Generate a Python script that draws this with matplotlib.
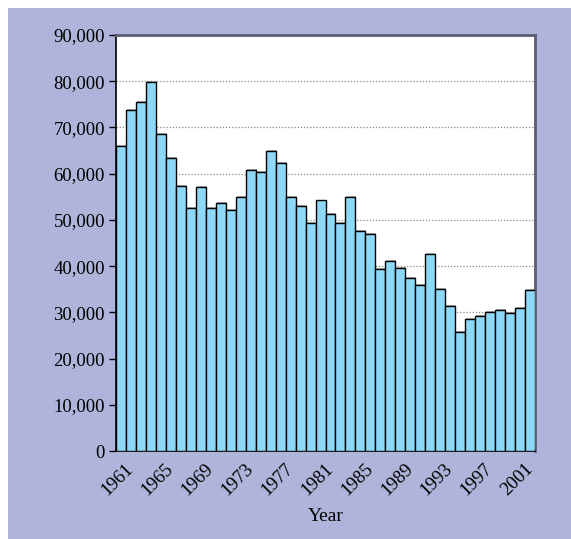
import matplotlib
matplotlib.use("Agg")
import matplotlib.pyplot as plt
import matplotlib.patheffects as pe
from matplotlib.patches import Rectangle
from matplotlib.ticker import FuncFormatter
from matplotlib.transforms import ScaledTranslation

years = list(range(1960, 2002))
values = [66000, 73700, 75500, 79800, 68600, 63300, 57400, 52500, 57100, 52500,
          53600, 52200, 55000, 60800, 60300, 65000, 62400, 54900, 53100, 49300,
          54200, 51200, 49300, 55000, 47700, 47000, 39400, 41100, 39600, 37500,
          35900, 42600, 35000, 31400, 25800, 28600, 29200, 30100, 30500, 29800,
          31000, 34800]
tick_years = list(range(1961, 2002, 4))
y_ticks = list(range(0, 90001, 10000))

bar_color = "#8DD8F6"
panel_color = "#AFB5DA"

plt.rcParams["font.family"] = ["Liberation Serif", "DejaVu Serif"]

fig = plt.figure(figsize=(5.71, 5.39), dpi=100, facecolor="white")
panel = Rectangle((8 / 571, 0), 1 - 8 / 571, 1 - 8 / 539,
                  transform=fig.transFigure, facecolor=panel_color,
                  edgecolor="none", zorder=-10)
fig.add_artist(panel)

ax = fig.add_axes([116 / 571, 1 - 451 / 539, (535 - 116) / 571, (451 - 35) / 539])
ax.set_zorder(1)
ax.set_facecolor("white")

bars = ax.bar(years, values, width=1.0, color=bar_color, edgecolor="black",
              linewidth=1.0, zorder=3)
for b in bars:
    b.set_path_effects([pe.SimplePatchShadow(offset=(0.7, 0.7), shadow_rgbFace="#555555",
                                             alpha=0.45), pe.Normal()])

ax.set_xlim(years[0] - 0.5, years[-1] + 0.5)
ax.set_ylim(0, 90000)
ax.set_yticks(y_ticks)
ax.yaxis.set_major_formatter(FuncFormatter(lambda v, p: f"{int(v):,}"))
ax.set_xticks(tick_years)
ax.set_xticklabels([str(y) for y in tick_years], rotation=45, ha="right",
                   fontsize=13.5)
ax.tick_params(axis="x", length=0, pad=7)
ax.tick_params(axis="y", length=5, width=1, direction="out", labelsize=13.5, pad=3)

# nudge the rotated year labels a little to the right
shift = ScaledTranslation(6 / 100, 0, fig.dpi_scale_trans)
for lbl in ax.get_xticklabels():
    lbl.set_transform(lbl.get_transform() + shift)

ax.yaxis.grid(True, linestyle=(0, (1, 1.5)), color="#888888", linewidth=0.9, zorder=1)
ax.set_axisbelow(True)

for side in ("left", "bottom"):
    ax.spines[side].set_color("black")
    ax.spines[side].set_linewidth(1.2)
for side in ("top", "right"):
    ax.spines[side].set_color("#5a5e70")
    ax.spines[side].set_linewidth(2.0)

ax.set_xlabel("Year", fontsize=14, labelpad=6)

fig.savefig("out.png", dpi=100, facecolor="white")
